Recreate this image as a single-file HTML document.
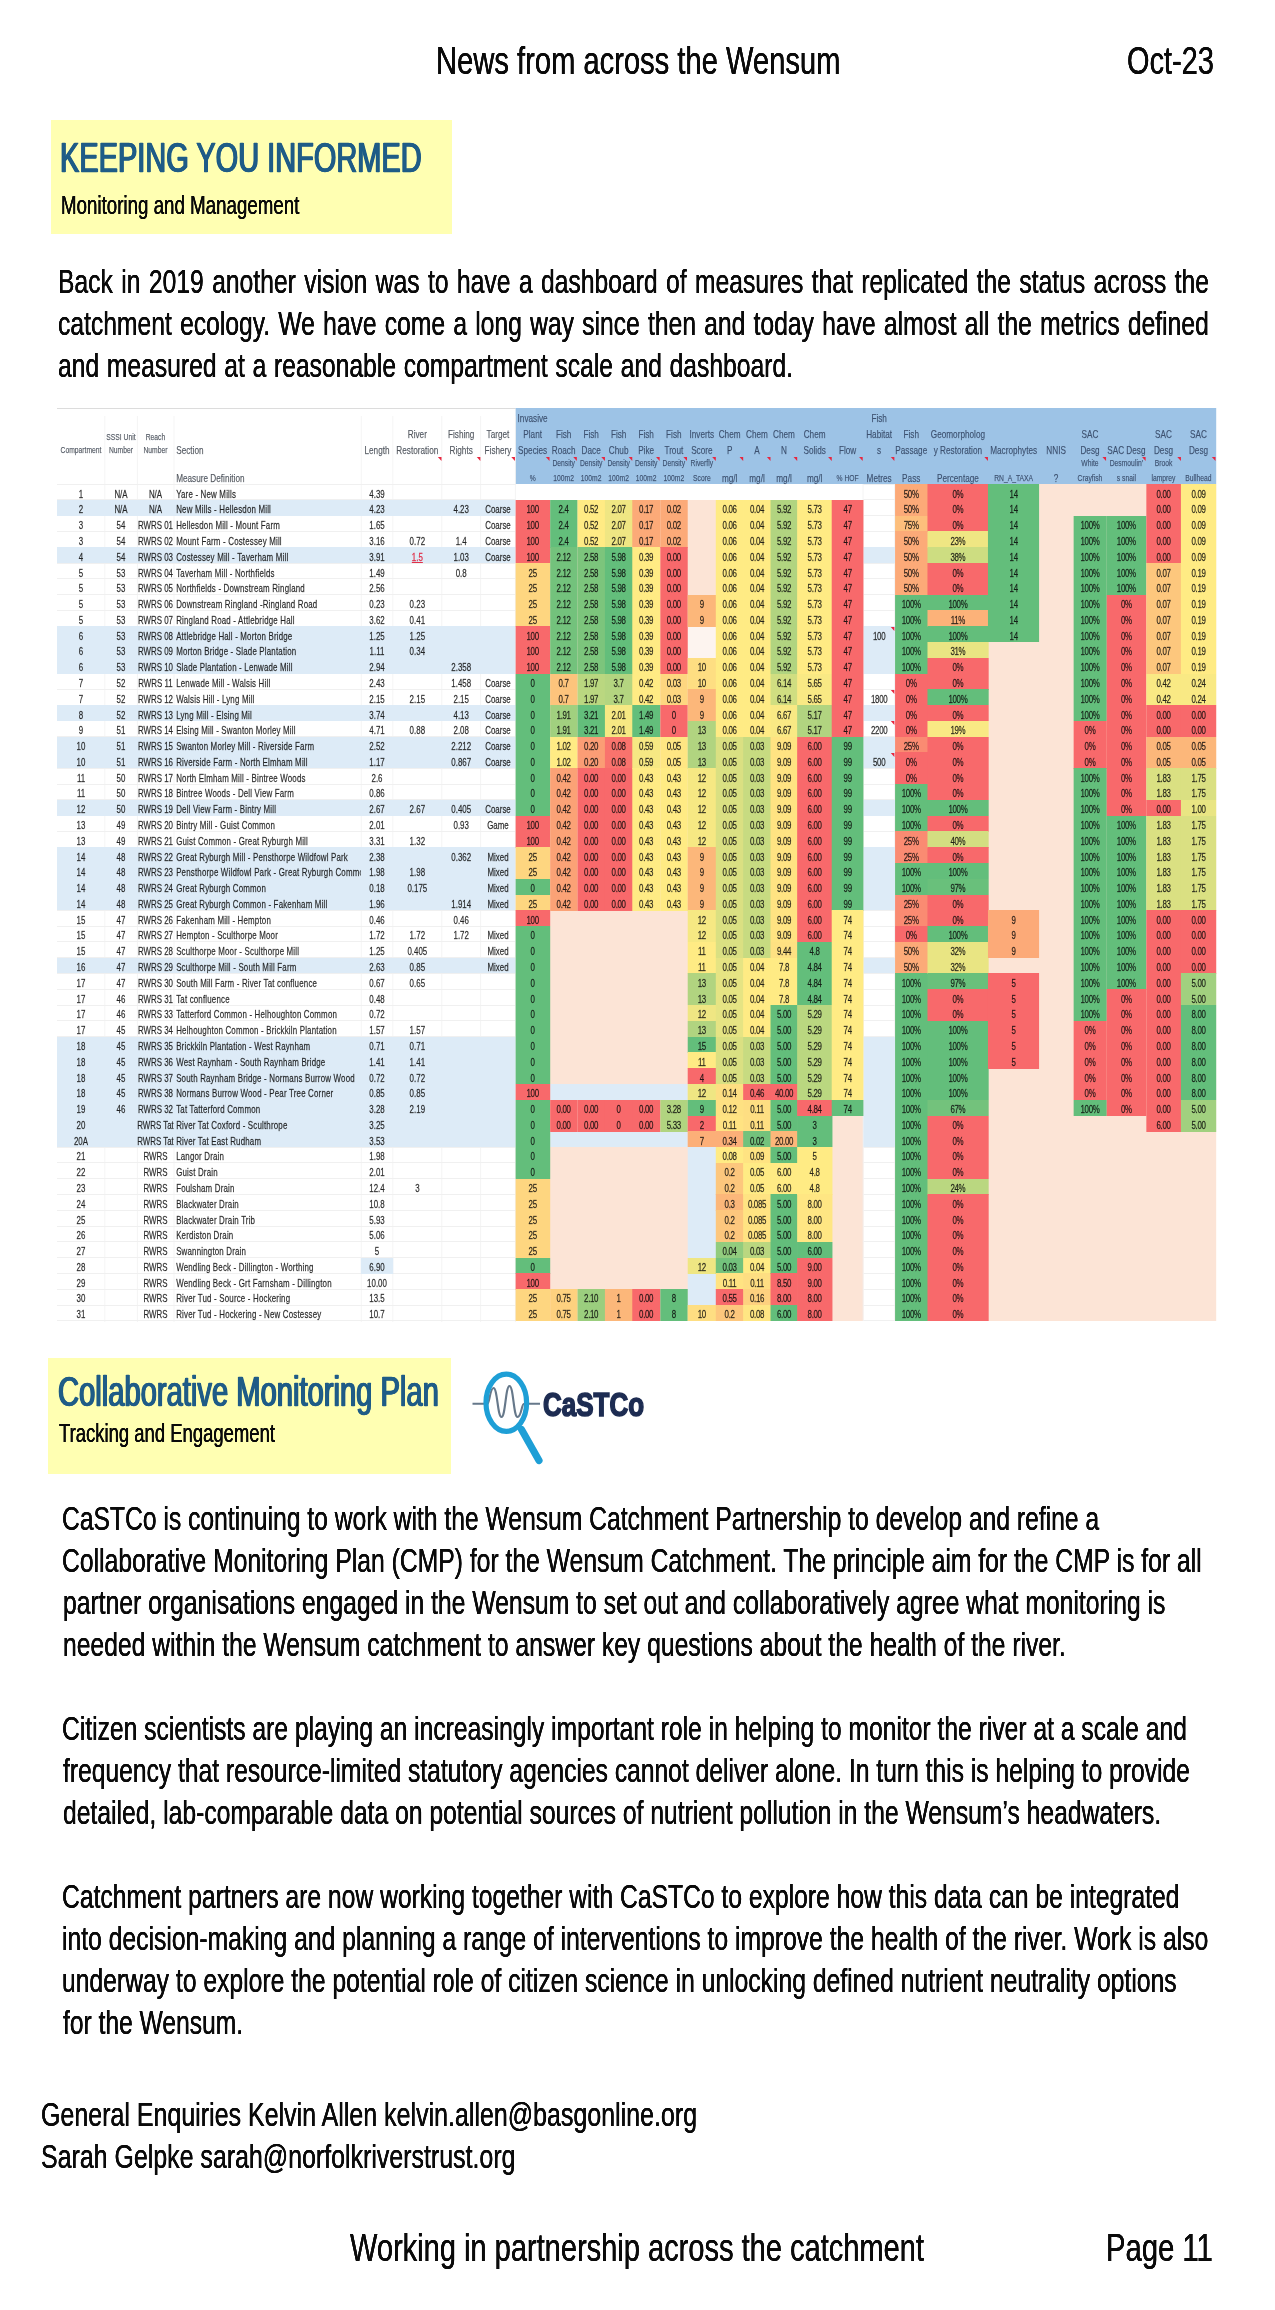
<!DOCTYPE html><html lang="en"><head><meta charset="utf-8"><title>News from across the Wensum - Oct-23 - Page 11</title><style>

html,body{margin:0;padding:0;background:#fff}
body{width:1275px;height:2310px;position:relative;overflow:hidden;font-family:"Liberation Sans",sans-serif;color:#000}
.t{position:absolute;white-space:nowrap;transform-origin:0 0;color:#0a0a0a;text-shadow:0.004em 0 0 #0a0a0a,-0.004em 0 0 #0a0a0a}
.yb{position:absolute;background:#ffffb2}
#tb{position:absolute;transform-origin:0 0;font-family:"Liberation Sans",sans-serif;filter:blur(0.6px)}
#tb i{position:absolute;display:block}
#tb .c{position:absolute;font-size:11.0px;color:rgba(10,10,10,.85);-webkit-text-stroke:0.3px rgba(10,10,10,.6);white-space:nowrap;overflow:hidden;box-sizing:border-box}
#tb .c p{margin:0;height:15.79px;line-height:15.79px}
#tb .sec{overflow:hidden;letter-spacing:.25px}
#tb .n{letter-spacing:-.45px}
#tb .h{position:absolute;font-size:11.4px;line-height:14px;height:14px;color:#3d5170;-webkit-text-stroke:0.25px rgba(61,81,112,.6);white-space:nowrap}
#tb .h.s{font-size:9.4px}
#tb .tr{width:0;height:0;border-left:5px solid transparent;border-top:4px solid #e8263f}

</style></head><body>
<div class="yb" style="left:50.7px;top:119.9px;width:401.4px;height:114.5px"></div>
<div class="yb" style="left:47.9px;top:1358.0px;width:403.2px;height:115.5px"></div>
<div class="t" style="left:435.69px;top:41.0px;font-size:39.6px;line-height:39.6px;transform:scaleX(0.7366);">News from across the Wensum</div>
<div class="t" style="left:1126.87px;top:41.0px;font-size:39.6px;line-height:39.6px;transform:scaleX(0.7314);">Oct-23</div>
<div class="t" style="left:60.14px;top:137.3px;font-size:42.3px;line-height:42.3px;transform:scaleX(0.6850);color:#1f5c87;-webkit-text-stroke:0.6px #1f5c87;text-shadow:1px 0 0 #1f5c87,-1px 0 0 #1f5c87">KEEPING YOU INFORMED</div>
<div class="t" style="left:60.70px;top:192.6px;font-size:25.0px;line-height:25.0px;transform:scaleX(0.7490);">Monitoring and Management</div>
<div class="t" style="left:57.62px;top:265.2px;font-size:33.3px;line-height:33.3px;transform:scaleX(0.7410);word-spacing:2.088px;">Back in 2019 another vision was to have a dashboard of measures that replicated the status across the</div>
<div class="t" style="left:57.86px;top:307.0px;font-size:33.3px;line-height:33.3px;transform:scaleX(0.7410);word-spacing:1.822px;">catchment ecology. We have come a long way since then and today have almost all the metrics defined</div>
<div class="t" style="left:57.86px;top:348.8px;font-size:33.3px;line-height:33.3px;transform:scaleX(0.7410);word-spacing:1.130px;">and measured at a reasonable compartment scale and dashboard.</div>
<div class="t" style="left:58.42px;top:1370.5px;font-size:42.3px;line-height:42.3px;transform:scaleX(0.6893);color:#1f5c87;-webkit-text-stroke:0.6px #1f5c87;text-shadow:1px 0 0 #1f5c87,-1px 0 0 #1f5c87">Collaborative Monitoring Plan</div>
<div class="t" style="left:59.00px;top:1421.3px;font-size:25.0px;line-height:25.0px;transform:scaleX(0.7388);">Tracking and Engagement</div>
<div class="t" style="left:62.16px;top:1502.4px;font-size:33.3px;line-height:33.3px;transform:scaleX(0.7406);">CaSTCo is continuing to work with the Wensum Catchment Partnership to develop and refine a</div>
<div class="t" style="left:62.16px;top:1544.4px;font-size:33.3px;line-height:33.3px;transform:scaleX(0.7420);">Collaborative Monitoring Plan (CMP) for the Wensum Catchment. The principle aim for the CMP is for all</div>
<div class="t" style="left:62.52px;top:1586.4px;font-size:33.3px;line-height:33.3px;transform:scaleX(0.7420);">partner organisations engaged in the Wensum to set out and collaboratively agree what monitoring is</div>
<div class="t" style="left:62.52px;top:1628.4px;font-size:33.3px;line-height:33.3px;transform:scaleX(0.7415);">needed within the Wensum catchment to answer key questions about the health of the river.</div>
<div class="t" style="left:62.16px;top:1712.4px;font-size:33.3px;line-height:33.3px;transform:scaleX(0.7403);">Citizen scientists are playing an increasingly important role in helping to monitor the river at a scale and</div>
<div class="t" style="left:63.30px;top:1754.4px;font-size:33.3px;line-height:33.3px;transform:scaleX(0.7398);">frequency that resource-limited statutory agencies cannot deliver alone. In turn this is helping to provide</div>
<div class="t" style="left:62.76px;top:1796.4px;font-size:33.3px;line-height:33.3px;transform:scaleX(0.7413);">detailed, lab-comparable data on potential sources of nutrient pollution in the Wensum’s headwaters.</div>
<div class="t" style="left:62.26px;top:1880.4px;font-size:33.3px;line-height:33.3px;transform:scaleX(0.7408);">Catchment partners are now working together with CaSTCo to explore how this data can be integrated</div>
<div class="t" style="left:62.32px;top:1922.4px;font-size:33.3px;line-height:33.3px;transform:scaleX(0.7420);">into decision-making and planning a range of interventions to improve the health of the river. Work is also</div>
<div class="t" style="left:62.32px;top:1964.4px;font-size:33.3px;line-height:33.3px;transform:scaleX(0.7416);">underway to explore the potential role of citizen science in unlocking defined nutrient neutrality options</div>
<div class="t" style="left:63.00px;top:2006.4px;font-size:33.3px;line-height:33.3px;transform:scaleX(0.7390);">for the Wensum.</div>
<div class="t" style="left:41.15px;top:2098.4px;font-size:33.3px;line-height:33.3px;transform:scaleX(0.7505);">General Enquiries Kelvin Allen kelvin.allen@basgonline.org</div>
<div class="t" style="left:41.25px;top:2140.1px;font-size:33.3px;line-height:33.3px;transform:scaleX(0.7491);">Sarah Gelpke sarah@norfolkriverstrust.org</div>
<div class="t" style="left:350.20px;top:2228.1px;font-size:39.6px;line-height:39.6px;transform:scaleX(0.7336);">Working in partnership across the catchment</div>
<div class="t" style="left:1105.98px;top:2228.1px;font-size:39.6px;line-height:39.6px;transform:scaleX(0.7388);">Page 11</div>
<div id="tb" style="left:57.0px;top:408.0px;width:1609.72px;height:914.6px;transform:scaleX(0.720)">
<i style="left:0;top:0;width:636.5px;height:1px;background:#dcdcdc"></i>
<i style="left:636.53px;top:0.3px;width:973.19px;height:75.8px;background:#9dc3e6"></i>
<i style="left:636.53px;top:91.89px;width:483.33px;height:820.82px;background:#fce4d6"></i>
<i style="left:1163.89px;top:76.10px;width:445.83px;height:836.61px;background:#fce4d6"></i>
<i style="left:66.07px;top:8.3px;width:1.2px;height:905.3px;background:#f0f0f0"></i>
<i style="left:110.51px;top:8.3px;width:1.2px;height:905.3px;background:#f0f0f0"></i>
<i style="left:161.90px;top:8.3px;width:1.2px;height:905.3px;background:#f0f0f0"></i>
<i style="left:421.62px;top:8.3px;width:1.2px;height:905.3px;background:#f0f0f0"></i>
<i style="left:466.07px;top:8.3px;width:1.2px;height:905.3px;background:#f0f0f0"></i>
<i style="left:533.71px;top:8.3px;width:1.2px;height:905.3px;background:#f0f0f0"></i>
<i style="left:587.87px;top:8.3px;width:1.2px;height:905.3px;background:#f0f0f0"></i>
<i style="left:635.93px;top:8.3px;width:1.2px;height:905.3px;background:#f0f0f0"></i>
<i style="left:1119.26px;top:76.1px;width:1.2px;height:836.6px;background:#f0f0f0"></i>
<i style="left:1163.29px;top:76.1px;width:1.2px;height:836.6px;background:#f0f0f0"></i>
<i style="left:0;top:75.70px;width:636.5px;height:0.9px;background:#f0f0f0"></i>
<i style="left:1119.86px;top:75.70px;width:44.0px;height:0.9px;background:#f0f0f0"></i>
<i style="left:0;top:91.49px;width:636.5px;height:0.9px;background:#f0f0f0"></i>
<i style="left:1119.86px;top:91.49px;width:44.0px;height:0.9px;background:#f0f0f0"></i>
<i style="left:0;top:107.27px;width:636.5px;height:0.9px;background:#f0f0f0"></i>
<i style="left:1119.86px;top:107.27px;width:44.0px;height:0.9px;background:#f0f0f0"></i>
<i style="left:0;top:123.06px;width:636.5px;height:0.9px;background:#f0f0f0"></i>
<i style="left:1119.86px;top:123.06px;width:44.0px;height:0.9px;background:#f0f0f0"></i>
<i style="left:0;top:138.84px;width:636.5px;height:0.9px;background:#f0f0f0"></i>
<i style="left:1119.86px;top:138.84px;width:44.0px;height:0.9px;background:#f0f0f0"></i>
<i style="left:0;top:154.62px;width:636.5px;height:0.9px;background:#f0f0f0"></i>
<i style="left:1119.86px;top:154.62px;width:44.0px;height:0.9px;background:#f0f0f0"></i>
<i style="left:0;top:170.41px;width:636.5px;height:0.9px;background:#f0f0f0"></i>
<i style="left:1119.86px;top:170.41px;width:44.0px;height:0.9px;background:#f0f0f0"></i>
<i style="left:0;top:186.20px;width:636.5px;height:0.9px;background:#f0f0f0"></i>
<i style="left:1119.86px;top:186.20px;width:44.0px;height:0.9px;background:#f0f0f0"></i>
<i style="left:0;top:201.98px;width:636.5px;height:0.9px;background:#f0f0f0"></i>
<i style="left:1119.86px;top:201.98px;width:44.0px;height:0.9px;background:#f0f0f0"></i>
<i style="left:0;top:217.76px;width:636.5px;height:0.9px;background:#f0f0f0"></i>
<i style="left:1119.86px;top:217.76px;width:44.0px;height:0.9px;background:#f0f0f0"></i>
<i style="left:0;top:233.55px;width:636.5px;height:0.9px;background:#f0f0f0"></i>
<i style="left:1119.86px;top:233.55px;width:44.0px;height:0.9px;background:#f0f0f0"></i>
<i style="left:0;top:249.34px;width:636.5px;height:0.9px;background:#f0f0f0"></i>
<i style="left:1119.86px;top:249.34px;width:44.0px;height:0.9px;background:#f0f0f0"></i>
<i style="left:0;top:265.12px;width:636.5px;height:0.9px;background:#f0f0f0"></i>
<i style="left:1119.86px;top:265.12px;width:44.0px;height:0.9px;background:#f0f0f0"></i>
<i style="left:0;top:280.91px;width:636.5px;height:0.9px;background:#f0f0f0"></i>
<i style="left:1119.86px;top:280.91px;width:44.0px;height:0.9px;background:#f0f0f0"></i>
<i style="left:0;top:296.69px;width:636.5px;height:0.9px;background:#f0f0f0"></i>
<i style="left:1119.86px;top:296.69px;width:44.0px;height:0.9px;background:#f0f0f0"></i>
<i style="left:0;top:312.48px;width:636.5px;height:0.9px;background:#f0f0f0"></i>
<i style="left:1119.86px;top:312.48px;width:44.0px;height:0.9px;background:#f0f0f0"></i>
<i style="left:0;top:328.26px;width:636.5px;height:0.9px;background:#f0f0f0"></i>
<i style="left:1119.86px;top:328.26px;width:44.0px;height:0.9px;background:#f0f0f0"></i>
<i style="left:0;top:344.05px;width:636.5px;height:0.9px;background:#f0f0f0"></i>
<i style="left:1119.86px;top:344.05px;width:44.0px;height:0.9px;background:#f0f0f0"></i>
<i style="left:0;top:359.83px;width:636.5px;height:0.9px;background:#f0f0f0"></i>
<i style="left:1119.86px;top:359.83px;width:44.0px;height:0.9px;background:#f0f0f0"></i>
<i style="left:0;top:375.62px;width:636.5px;height:0.9px;background:#f0f0f0"></i>
<i style="left:1119.86px;top:375.62px;width:44.0px;height:0.9px;background:#f0f0f0"></i>
<i style="left:0;top:391.40px;width:636.5px;height:0.9px;background:#f0f0f0"></i>
<i style="left:1119.86px;top:391.40px;width:44.0px;height:0.9px;background:#f0f0f0"></i>
<i style="left:0;top:407.19px;width:636.5px;height:0.9px;background:#f0f0f0"></i>
<i style="left:1119.86px;top:407.19px;width:44.0px;height:0.9px;background:#f0f0f0"></i>
<i style="left:0;top:422.97px;width:636.5px;height:0.9px;background:#f0f0f0"></i>
<i style="left:1119.86px;top:422.97px;width:44.0px;height:0.9px;background:#f0f0f0"></i>
<i style="left:0;top:438.75px;width:636.5px;height:0.9px;background:#f0f0f0"></i>
<i style="left:1119.86px;top:438.75px;width:44.0px;height:0.9px;background:#f0f0f0"></i>
<i style="left:0;top:454.54px;width:636.5px;height:0.9px;background:#f0f0f0"></i>
<i style="left:1119.86px;top:454.54px;width:44.0px;height:0.9px;background:#f0f0f0"></i>
<i style="left:0;top:470.33px;width:636.5px;height:0.9px;background:#f0f0f0"></i>
<i style="left:1119.86px;top:470.33px;width:44.0px;height:0.9px;background:#f0f0f0"></i>
<i style="left:0;top:486.11px;width:636.5px;height:0.9px;background:#f0f0f0"></i>
<i style="left:1119.86px;top:486.11px;width:44.0px;height:0.9px;background:#f0f0f0"></i>
<i style="left:0;top:501.90px;width:636.5px;height:0.9px;background:#f0f0f0"></i>
<i style="left:1119.86px;top:501.90px;width:44.0px;height:0.9px;background:#f0f0f0"></i>
<i style="left:0;top:517.68px;width:636.5px;height:0.9px;background:#f0f0f0"></i>
<i style="left:1119.86px;top:517.68px;width:44.0px;height:0.9px;background:#f0f0f0"></i>
<i style="left:0;top:533.47px;width:636.5px;height:0.9px;background:#f0f0f0"></i>
<i style="left:1119.86px;top:533.47px;width:44.0px;height:0.9px;background:#f0f0f0"></i>
<i style="left:0;top:549.25px;width:636.5px;height:0.9px;background:#f0f0f0"></i>
<i style="left:1119.86px;top:549.25px;width:44.0px;height:0.9px;background:#f0f0f0"></i>
<i style="left:0;top:565.03px;width:636.5px;height:0.9px;background:#f0f0f0"></i>
<i style="left:1119.86px;top:565.03px;width:44.0px;height:0.9px;background:#f0f0f0"></i>
<i style="left:0;top:580.82px;width:636.5px;height:0.9px;background:#f0f0f0"></i>
<i style="left:1119.86px;top:580.82px;width:44.0px;height:0.9px;background:#f0f0f0"></i>
<i style="left:0;top:596.61px;width:636.5px;height:0.9px;background:#f0f0f0"></i>
<i style="left:1119.86px;top:596.61px;width:44.0px;height:0.9px;background:#f0f0f0"></i>
<i style="left:0;top:612.39px;width:636.5px;height:0.9px;background:#f0f0f0"></i>
<i style="left:1119.86px;top:612.39px;width:44.0px;height:0.9px;background:#f0f0f0"></i>
<i style="left:0;top:628.18px;width:636.5px;height:0.9px;background:#f0f0f0"></i>
<i style="left:1119.86px;top:628.18px;width:44.0px;height:0.9px;background:#f0f0f0"></i>
<i style="left:0;top:643.96px;width:636.5px;height:0.9px;background:#f0f0f0"></i>
<i style="left:1119.86px;top:643.96px;width:44.0px;height:0.9px;background:#f0f0f0"></i>
<i style="left:0;top:659.75px;width:636.5px;height:0.9px;background:#f0f0f0"></i>
<i style="left:1119.86px;top:659.75px;width:44.0px;height:0.9px;background:#f0f0f0"></i>
<i style="left:0;top:675.53px;width:636.5px;height:0.9px;background:#f0f0f0"></i>
<i style="left:1119.86px;top:675.53px;width:44.0px;height:0.9px;background:#f0f0f0"></i>
<i style="left:0;top:691.32px;width:636.5px;height:0.9px;background:#f0f0f0"></i>
<i style="left:1119.86px;top:691.32px;width:44.0px;height:0.9px;background:#f0f0f0"></i>
<i style="left:0;top:707.10px;width:636.5px;height:0.9px;background:#f0f0f0"></i>
<i style="left:1119.86px;top:707.10px;width:44.0px;height:0.9px;background:#f0f0f0"></i>
<i style="left:0;top:722.89px;width:636.5px;height:0.9px;background:#f0f0f0"></i>
<i style="left:1119.86px;top:722.89px;width:44.0px;height:0.9px;background:#f0f0f0"></i>
<i style="left:0;top:738.67px;width:636.5px;height:0.9px;background:#f0f0f0"></i>
<i style="left:1119.86px;top:738.67px;width:44.0px;height:0.9px;background:#f0f0f0"></i>
<i style="left:0;top:754.46px;width:636.5px;height:0.9px;background:#f0f0f0"></i>
<i style="left:1119.86px;top:754.46px;width:44.0px;height:0.9px;background:#f0f0f0"></i>
<i style="left:0;top:770.24px;width:636.5px;height:0.9px;background:#f0f0f0"></i>
<i style="left:1119.86px;top:770.24px;width:44.0px;height:0.9px;background:#f0f0f0"></i>
<i style="left:0;top:786.03px;width:636.5px;height:0.9px;background:#f0f0f0"></i>
<i style="left:1119.86px;top:786.03px;width:44.0px;height:0.9px;background:#f0f0f0"></i>
<i style="left:0;top:801.81px;width:636.5px;height:0.9px;background:#f0f0f0"></i>
<i style="left:1119.86px;top:801.81px;width:44.0px;height:0.9px;background:#f0f0f0"></i>
<i style="left:0;top:817.59px;width:636.5px;height:0.9px;background:#f0f0f0"></i>
<i style="left:1119.86px;top:817.59px;width:44.0px;height:0.9px;background:#f0f0f0"></i>
<i style="left:0;top:833.38px;width:636.5px;height:0.9px;background:#f0f0f0"></i>
<i style="left:1119.86px;top:833.38px;width:44.0px;height:0.9px;background:#f0f0f0"></i>
<i style="left:0;top:849.17px;width:636.5px;height:0.9px;background:#f0f0f0"></i>
<i style="left:1119.86px;top:849.17px;width:44.0px;height:0.9px;background:#f0f0f0"></i>
<i style="left:0;top:864.95px;width:636.5px;height:0.9px;background:#f0f0f0"></i>
<i style="left:1119.86px;top:864.95px;width:44.0px;height:0.9px;background:#f0f0f0"></i>
<i style="left:0;top:880.74px;width:636.5px;height:0.9px;background:#f0f0f0"></i>
<i style="left:1119.86px;top:880.74px;width:44.0px;height:0.9px;background:#f0f0f0"></i>
<i style="left:0;top:896.52px;width:636.5px;height:0.9px;background:#f0f0f0"></i>
<i style="left:1119.86px;top:896.52px;width:44.0px;height:0.9px;background:#f0f0f0"></i>
<i style="left:0;top:912.30px;width:636.5px;height:0.9px;background:#f0f0f0"></i>
<i style="left:1119.86px;top:912.30px;width:44.0px;height:0.9px;background:#f0f0f0"></i>
<i style="left:0;top:91.89px;width:636.53px;height:15.79px;background:#ddebf7"></i>
<i style="left:0;top:139.24px;width:636.53px;height:15.79px;background:#ddebf7"></i>
<i style="left:1119.86px;top:139.24px;width:44.03px;height:15.79px;background:#ddebf7"></i>
<i style="left:0;top:218.16px;width:636.53px;height:47.36px;background:#ddebf7"></i>
<i style="left:1119.86px;top:218.16px;width:44.03px;height:47.36px;background:#ddebf7"></i>
<i style="left:0;top:297.09px;width:636.53px;height:15.79px;background:#ddebf7"></i>
<i style="left:1119.86px;top:297.09px;width:44.03px;height:15.79px;background:#ddebf7"></i>
<i style="left:0;top:328.66px;width:636.53px;height:31.57px;background:#ddebf7"></i>
<i style="left:1119.86px;top:328.66px;width:44.03px;height:31.57px;background:#ddebf7"></i>
<i style="left:0;top:391.80px;width:636.53px;height:15.79px;background:#ddebf7"></i>
<i style="left:1119.86px;top:391.80px;width:44.03px;height:15.79px;background:#ddebf7"></i>
<i style="left:0;top:439.15px;width:636.53px;height:63.14px;background:#ddebf7"></i>
<i style="left:1119.86px;top:439.15px;width:44.03px;height:63.14px;background:#ddebf7"></i>
<i style="left:0;top:549.65px;width:636.53px;height:15.79px;background:#ddebf7"></i>
<i style="left:1119.86px;top:549.65px;width:44.03px;height:15.79px;background:#ddebf7"></i>
<i style="left:0;top:628.58px;width:636.53px;height:110.50px;background:#ddebf7"></i>
<i style="left:1119.86px;top:628.58px;width:44.03px;height:110.50px;background:#ddebf7"></i>
<i style="left:684.72px;top:675.93px;width:191.75px;height:16.18px;background:#ddebf7"></i>
<i style="left:684.72px;top:723.29px;width:191.75px;height:16.18px;background:#ddebf7"></i>
<i style="left:875.97px;top:739.07px;width:39.81px;height:110.90px;background:#ddebf7"></i>
<i style="left:875.97px;top:865.35px;width:39.81px;height:31.97px;background:#ddebf7"></i>
<i style="left:875.97px;top:218.16px;width:39.81px;height:31.97px;background:#fdf4ef"></i>
<i style="left:422.22px;top:849.57px;width:44.94px;height:16.18px;background:#ddebf7"></i>
<i style="left:636.53px;top:91.89px;width:48.69px;height:63.54px;background:#f8696b"></i>
<i style="left:636.53px;top:155.02px;width:48.69px;height:63.54px;background:#fed680"></i>
<i style="left:636.53px;top:218.16px;width:48.69px;height:47.76px;background:#f8696b"></i>
<i style="left:636.53px;top:265.52px;width:48.69px;height:142.47px;background:#63be7b"></i>
<i style="left:636.53px;top:407.59px;width:48.69px;height:31.97px;background:#f8696b"></i>
<i style="left:636.53px;top:439.15px;width:48.69px;height:31.97px;background:#fed680"></i>
<i style="left:636.53px;top:470.73px;width:48.69px;height:16.18px;background:#63be7b"></i>
<i style="left:636.53px;top:486.51px;width:48.69px;height:16.18px;background:#fed680"></i>
<i style="left:636.53px;top:502.30px;width:48.69px;height:16.18px;background:#f8696b"></i>
<i style="left:636.53px;top:518.08px;width:48.69px;height:158.25px;background:#63be7b"></i>
<i style="left:636.53px;top:675.93px;width:48.69px;height:16.18px;background:#f8696b"></i>
<i style="left:636.53px;top:691.72px;width:48.69px;height:79.33px;background:#63be7b"></i>
<i style="left:636.53px;top:770.64px;width:48.69px;height:79.33px;background:#fed680"></i>
<i style="left:636.53px;top:849.57px;width:48.69px;height:16.18px;background:#63be7b"></i>
<i style="left:636.53px;top:865.35px;width:48.69px;height:16.18px;background:#f8696b"></i>
<i style="left:636.53px;top:881.13px;width:48.69px;height:31.97px;background:#fed680"></i>
<i style="left:684.72px;top:91.89px;width:38.42px;height:47.76px;background:#63be7b"></i>
<i style="left:684.72px;top:139.24px;width:38.42px;height:126.68px;background:#73c27c"></i>
<i style="left:684.72px;top:265.52px;width:38.42px;height:31.97px;background:#fdc47c"></i>
<i style="left:684.72px;top:297.09px;width:38.42px;height:31.97px;background:#a1d07f"></i>
<i style="left:684.72px;top:328.66px;width:38.42px;height:31.97px;background:#ffeb84"></i>
<i style="left:684.72px;top:360.23px;width:38.42px;height:142.47px;background:#fba276"></i>
<i style="left:684.72px;top:691.72px;width:38.42px;height:31.97px;background:#f8696b"></i>
<i style="left:684.72px;top:881.13px;width:38.42px;height:31.97px;background:#fed17f"></i>
<i style="left:722.64px;top:91.89px;width:38.97px;height:47.76px;background:#ffeb84"></i>
<i style="left:722.64px;top:139.24px;width:38.97px;height:126.68px;background:#7cc57c"></i>
<i style="left:722.64px;top:265.52px;width:38.97px;height:31.97px;background:#bad780"></i>
<i style="left:722.64px;top:297.09px;width:38.97px;height:31.97px;background:#63be7b"></i>
<i style="left:722.64px;top:328.66px;width:38.97px;height:31.97px;background:#fb9d75"></i>
<i style="left:722.64px;top:360.23px;width:38.97px;height:142.47px;background:#f8696b"></i>
<i style="left:722.64px;top:691.72px;width:38.97px;height:31.97px;background:#f8696b"></i>
<i style="left:722.64px;top:881.13px;width:38.97px;height:31.97px;background:#9bce7e"></i>
<i style="left:761.11px;top:91.89px;width:38.42px;height:47.76px;background:#efe683"></i>
<i style="left:761.11px;top:139.24px;width:38.42px;height:126.68px;background:#63be7b"></i>
<i style="left:761.11px;top:265.52px;width:38.42px;height:31.97px;background:#b4d580"></i>
<i style="left:761.11px;top:297.09px;width:38.42px;height:31.97px;background:#f6e883"></i>
<i style="left:761.11px;top:328.66px;width:38.42px;height:31.97px;background:#f9736d"></i>
<i style="left:761.11px;top:360.23px;width:38.42px;height:142.47px;background:#f8696b"></i>
<i style="left:761.11px;top:691.72px;width:38.42px;height:31.97px;background:#f8696b"></i>
<i style="left:761.11px;top:881.13px;width:38.42px;height:31.97px;background:#fcb77a"></i>
<i style="left:799.03px;top:91.89px;width:38.97px;height:47.76px;background:#fcaa78"></i>
<i style="left:799.03px;top:139.24px;width:38.97px;height:158.25px;background:#ffeb84"></i>
<i style="left:799.03px;top:297.09px;width:38.97px;height:31.97px;background:#63be7b"></i>
<i style="left:799.03px;top:328.66px;width:38.97px;height:31.97px;background:#f6e883"></i>
<i style="left:799.03px;top:360.23px;width:38.97px;height:142.47px;background:#ffeb84"></i>
<i style="left:799.03px;top:691.72px;width:38.97px;height:31.97px;background:#f8696b"></i>
<i style="left:799.03px;top:881.13px;width:38.97px;height:31.97px;background:#f8696b"></i>
<i style="left:837.50px;top:91.89px;width:38.97px;height:47.76px;background:#fcaa78"></i>
<i style="left:837.50px;top:139.24px;width:38.97px;height:126.68px;background:#f8696b"></i>
<i style="left:837.50px;top:265.52px;width:38.97px;height:31.97px;background:#fed680"></i>
<i style="left:837.50px;top:297.09px;width:38.97px;height:31.97px;background:#f8696b"></i>
<i style="left:837.50px;top:328.66px;width:38.97px;height:31.97px;background:#ffe683"></i>
<i style="left:837.50px;top:360.23px;width:38.97px;height:142.47px;background:#ffeb84"></i>
<i style="left:837.50px;top:691.72px;width:38.97px;height:31.97px;background:#b1d480"></i>
<i style="left:837.50px;top:881.13px;width:38.97px;height:31.97px;background:#63be7b"></i>
<i style="left:875.97px;top:186.60px;width:39.81px;height:31.97px;background:#fcb77a"></i>
<i style="left:875.97px;top:249.74px;width:39.81px;height:31.97px;background:#fede82"></i>
<i style="left:875.97px;top:281.31px;width:39.81px;height:31.97px;background:#fcb77a"></i>
<i style="left:875.97px;top:312.88px;width:39.81px;height:47.76px;background:#b1d480"></i>
<i style="left:875.97px;top:360.23px;width:39.81px;height:79.33px;background:#f6e883"></i>
<i style="left:875.97px;top:439.15px;width:39.81px;height:63.54px;background:#fcb77a"></i>
<i style="left:875.97px;top:502.30px;width:39.81px;height:31.97px;background:#f6e883"></i>
<i style="left:875.97px;top:533.87px;width:39.81px;height:31.97px;background:#ffeb84"></i>
<i style="left:875.97px;top:565.43px;width:39.81px;height:31.97px;background:#b1d480"></i>
<i style="left:875.97px;top:597.00px;width:39.81px;height:16.18px;background:#efe683"></i>
<i style="left:875.97px;top:612.79px;width:39.81px;height:16.18px;background:#b1d480"></i>
<i style="left:875.97px;top:628.58px;width:39.81px;height:16.18px;background:#63be7b"></i>
<i style="left:875.97px;top:644.36px;width:39.81px;height:16.18px;background:#ffeb84"></i>
<i style="left:875.97px;top:660.14px;width:39.81px;height:16.18px;background:#f8696b"></i>
<i style="left:875.97px;top:675.93px;width:39.81px;height:16.18px;background:#efe683"></i>
<i style="left:875.97px;top:691.72px;width:39.81px;height:16.18px;background:#63be7b"></i>
<i style="left:875.97px;top:707.50px;width:39.81px;height:16.18px;background:#f8696b"></i>
<i style="left:875.97px;top:723.29px;width:39.81px;height:16.18px;background:#fcaf78"></i>
<i style="left:875.97px;top:849.57px;width:39.81px;height:16.18px;background:#efe683"></i>
<i style="left:875.97px;top:896.92px;width:39.81px;height:16.18px;background:#fede82"></i>
<i style="left:915.28px;top:91.89px;width:38.42px;height:237.18px;background:#ffeb84"></i>
<i style="left:915.28px;top:328.66px;width:38.42px;height:221.39px;background:#dae082"></i>
<i style="left:915.28px;top:549.65px;width:38.42px;height:79.33px;background:#e6e483"></i>
<i style="left:915.28px;top:628.58px;width:38.42px;height:47.76px;background:#dae082"></i>
<i style="left:915.28px;top:675.93px;width:38.42px;height:16.18px;background:#fede82"></i>
<i style="left:915.28px;top:691.72px;width:38.42px;height:16.18px;background:#fee182"></i>
<i style="left:915.28px;top:707.50px;width:38.42px;height:16.18px;background:#ffe382"></i>
<i style="left:915.28px;top:723.29px;width:38.42px;height:16.18px;background:#fcaf78"></i>
<i style="left:915.28px;top:739.07px;width:38.42px;height:16.18px;background:#ffeb84"></i>
<i style="left:915.28px;top:754.86px;width:38.42px;height:31.97px;background:#fdc77d"></i>
<i style="left:915.28px;top:786.43px;width:38.42px;height:16.18px;background:#fcb77a"></i>
<i style="left:915.28px;top:802.21px;width:38.42px;height:31.97px;background:#fdc77d"></i>
<i style="left:915.28px;top:833.78px;width:38.42px;height:16.18px;background:#92cc7e"></i>
<i style="left:915.28px;top:849.57px;width:38.42px;height:16.18px;background:#73c27c"></i>
<i style="left:915.28px;top:865.35px;width:38.42px;height:16.18px;background:#ffe382"></i>
<i style="left:915.28px;top:881.13px;width:38.42px;height:16.18px;background:#f8696b"></i>
<i style="left:915.28px;top:896.92px;width:38.42px;height:16.18px;background:#fdc77d"></i>
<i style="left:953.19px;top:91.89px;width:38.56px;height:237.18px;background:#ffeb84"></i>
<i style="left:953.19px;top:328.66px;width:38.56px;height:221.39px;background:#c7db81"></i>
<i style="left:953.19px;top:549.65px;width:38.56px;height:79.33px;background:#ffeb84"></i>
<i style="left:953.19px;top:628.58px;width:38.56px;height:47.76px;background:#c7db81"></i>
<i style="left:953.19px;top:675.93px;width:38.56px;height:16.18px;background:#f8696b"></i>
<i style="left:953.19px;top:691.72px;width:38.56px;height:31.97px;background:#fede82"></i>
<i style="left:953.19px;top:723.29px;width:38.56px;height:16.18px;background:#73c27c"></i>
<i style="left:953.19px;top:739.07px;width:38.56px;height:16.18px;background:#ffe382"></i>
<i style="left:953.19px;top:754.86px;width:38.56px;height:31.97px;background:#ffeb84"></i>
<i style="left:953.19px;top:786.43px;width:38.56px;height:47.76px;background:#ffe382"></i>
<i style="left:953.19px;top:833.78px;width:38.56px;height:16.18px;background:#bad780"></i>
<i style="left:953.19px;top:849.57px;width:38.56px;height:16.18px;background:#ffeb84"></i>
<i style="left:953.19px;top:865.35px;width:38.56px;height:16.18px;background:#fede82"></i>
<i style="left:953.19px;top:881.13px;width:38.56px;height:16.18px;background:#fed17f"></i>
<i style="left:953.19px;top:896.92px;width:38.56px;height:16.18px;background:#ffe683"></i>
<i style="left:991.25px;top:91.89px;width:37.44px;height:174.03px;background:#b1d480"></i>
<i style="left:991.25px;top:265.52px;width:37.44px;height:31.97px;background:#d0de81"></i>
<i style="left:991.25px;top:297.09px;width:37.44px;height:31.97px;background:#f9e984"></i>
<i style="left:991.25px;top:328.66px;width:37.44px;height:205.61px;background:#ffe382"></i>
<i style="left:991.25px;top:533.87px;width:37.44px;height:16.18px;background:#fee182"></i>
<i style="left:991.25px;top:549.65px;width:37.44px;height:47.76px;background:#ffeb84"></i>
<i style="left:991.25px;top:597.00px;width:37.44px;height:79.33px;background:#63be7b"></i>
<i style="left:991.25px;top:675.93px;width:37.44px;height:16.18px;background:#f8696b"></i>
<i style="left:991.25px;top:691.72px;width:37.44px;height:31.97px;background:#63be7b"></i>
<i style="left:991.25px;top:723.29px;width:37.44px;height:16.18px;background:#fcb77a"></i>
<i style="left:991.25px;top:739.07px;width:37.44px;height:16.18px;background:#63be7b"></i>
<i style="left:991.25px;top:754.86px;width:37.44px;height:31.97px;background:#ffeb84"></i>
<i style="left:991.25px;top:786.43px;width:37.44px;height:79.33px;background:#63be7b"></i>
<i style="left:991.25px;top:865.35px;width:37.44px;height:31.97px;background:#f8696b"></i>
<i style="left:991.25px;top:896.92px;width:37.44px;height:16.18px;background:#63be7b"></i>
<i style="left:1028.19px;top:91.89px;width:48.69px;height:174.03px;background:#ffeb84"></i>
<i style="left:1028.19px;top:265.52px;width:48.69px;height:31.97px;background:#f9e984"></i>
<i style="left:1028.19px;top:297.09px;width:48.69px;height:31.97px;background:#b1d480"></i>
<i style="left:1028.19px;top:328.66px;width:48.69px;height:205.61px;background:#f8696b"></i>
<i style="left:1028.19px;top:533.87px;width:48.69px;height:63.54px;background:#63be7b"></i>
<i style="left:1028.19px;top:597.00px;width:48.69px;height:95.11px;background:#bad780"></i>
<i style="left:1028.19px;top:691.72px;width:48.69px;height:16.18px;background:#f8696b"></i>
<i style="left:1028.19px;top:707.50px;width:48.69px;height:31.97px;background:#63be7b"></i>
<i style="left:1028.19px;top:739.07px;width:48.69px;height:47.76px;background:#ffeb84"></i>
<i style="left:1028.19px;top:786.43px;width:48.69px;height:47.76px;background:#ffe683"></i>
<i style="left:1028.19px;top:833.78px;width:48.69px;height:16.18px;background:#63be7b"></i>
<i style="left:1028.19px;top:849.57px;width:48.69px;height:63.54px;background:#f8696b"></i>
<i style="left:1076.39px;top:91.89px;width:43.97px;height:237.18px;background:#f8696b"></i>
<i style="left:1076.39px;top:328.66px;width:43.97px;height:174.03px;background:#63be7b"></i>
<i style="left:1076.39px;top:502.30px;width:43.97px;height:189.82px;background:#ffeb84"></i>
<i style="left:1076.39px;top:691.72px;width:43.97px;height:16.18px;background:#63be7b"></i>
<i style="left:1163.89px;top:76.10px;width:45.64px;height:31.97px;background:#fcaa78"></i>
<i style="left:1163.89px;top:107.67px;width:45.64px;height:16.18px;background:#fdbf7c"></i>
<i style="left:1163.89px;top:123.46px;width:45.64px;height:63.54px;background:#fcaa78"></i>
<i style="left:1163.89px;top:186.60px;width:45.64px;height:79.33px;background:#63be7b"></i>
<i style="left:1163.89px;top:265.52px;width:45.64px;height:63.54px;background:#f8696b"></i>
<i style="left:1163.89px;top:328.66px;width:45.64px;height:16.18px;background:#fa8b72"></i>
<i style="left:1163.89px;top:344.45px;width:45.64px;height:31.97px;background:#f8696b"></i>
<i style="left:1163.89px;top:376.02px;width:45.64px;height:47.76px;background:#63be7b"></i>
<i style="left:1163.89px;top:423.37px;width:45.64px;height:31.97px;background:#fa8b72"></i>
<i style="left:1163.89px;top:454.94px;width:45.64px;height:31.97px;background:#63be7b"></i>
<i style="left:1163.89px;top:486.51px;width:45.64px;height:31.97px;background:#fa8b72"></i>
<i style="left:1163.89px;top:518.08px;width:45.64px;height:16.18px;background:#f8696b"></i>
<i style="left:1163.89px;top:533.87px;width:45.64px;height:31.97px;background:#fcaa78"></i>
<i style="left:1163.89px;top:565.43px;width:45.64px;height:347.67px;background:#63be7b"></i>
<i style="left:1209.03px;top:76.10px;width:84.94px;height:47.76px;background:#f8696b"></i>
<i style="left:1209.03px;top:123.46px;width:84.94px;height:16.18px;background:#efe683"></i>
<i style="left:1209.03px;top:139.24px;width:84.94px;height:16.18px;background:#cddd81"></i>
<i style="left:1209.03px;top:155.02px;width:84.94px;height:31.97px;background:#f8696b"></i>
<i style="left:1209.03px;top:186.60px;width:84.94px;height:16.18px;background:#63be7b"></i>
<i style="left:1209.03px;top:202.38px;width:84.94px;height:16.18px;background:#fcb279"></i>
<i style="left:1209.03px;top:218.16px;width:84.94px;height:16.18px;background:#63be7b"></i>
<i style="left:1209.03px;top:233.95px;width:84.94px;height:16.18px;background:#e9e583"></i>
<i style="left:1209.03px;top:249.74px;width:84.94px;height:31.97px;background:#f8696b"></i>
<i style="left:1209.03px;top:281.31px;width:84.94px;height:16.18px;background:#63be7b"></i>
<i style="left:1209.03px;top:297.09px;width:84.94px;height:16.18px;background:#f8696b"></i>
<i style="left:1209.03px;top:312.88px;width:84.94px;height:16.18px;background:#f9e984"></i>
<i style="left:1209.03px;top:328.66px;width:84.94px;height:63.54px;background:#f8696b"></i>
<i style="left:1209.03px;top:391.80px;width:84.94px;height:16.18px;background:#63be7b"></i>
<i style="left:1209.03px;top:407.59px;width:84.94px;height:16.18px;background:#f8696b"></i>
<i style="left:1209.03px;top:423.37px;width:84.94px;height:16.18px;background:#d3de81"></i>
<i style="left:1209.03px;top:439.15px;width:84.94px;height:16.18px;background:#f8696b"></i>
<i style="left:1209.03px;top:454.94px;width:84.94px;height:16.18px;background:#63be7b"></i>
<i style="left:1209.03px;top:470.73px;width:84.94px;height:16.18px;background:#69c07b"></i>
<i style="left:1209.03px;top:486.51px;width:84.94px;height:31.97px;background:#f8696b"></i>
<i style="left:1209.03px;top:518.08px;width:84.94px;height:16.18px;background:#63be7b"></i>
<i style="left:1209.03px;top:533.87px;width:84.94px;height:31.97px;background:#e9e583"></i>
<i style="left:1209.03px;top:565.43px;width:84.94px;height:16.18px;background:#69c07b"></i>
<i style="left:1209.03px;top:581.22px;width:84.94px;height:31.97px;background:#f8696b"></i>
<i style="left:1209.03px;top:612.79px;width:84.94px;height:79.33px;background:#63be7b"></i>
<i style="left:1209.03px;top:691.72px;width:84.94px;height:16.18px;background:#73c27c"></i>
<i style="left:1209.03px;top:707.50px;width:84.94px;height:63.54px;background:#f8696b"></i>
<i style="left:1209.03px;top:770.64px;width:84.94px;height:16.18px;background:#bad780"></i>
<i style="left:1209.03px;top:786.43px;width:84.94px;height:126.68px;background:#f8696b"></i>
<i style="left:1293.47px;top:76.10px;width:70.92px;height:158.25px;background:#63be7b"></i>
<i style="left:1293.47px;top:502.30px;width:70.92px;height:47.76px;background:#fcaa78"></i>
<i style="left:1293.47px;top:565.43px;width:70.92px;height:95.11px;background:#f8696b"></i>
<i style="left:1411.53px;top:107.67px;width:46.89px;height:205.61px;background:#63be7b"></i>
<i style="left:1411.53px;top:312.88px;width:46.89px;height:47.76px;background:#f8696b"></i>
<i style="left:1411.53px;top:360.23px;width:46.89px;height:252.96px;background:#63be7b"></i>
<i style="left:1411.53px;top:612.79px;width:46.89px;height:79.33px;background:#f8696b"></i>
<i style="left:1411.53px;top:691.72px;width:46.89px;height:16.18px;background:#63be7b"></i>
<i style="left:1457.92px;top:107.67px;width:55.08px;height:79.33px;background:#63be7b"></i>
<i style="left:1457.92px;top:186.60px;width:55.08px;height:221.39px;background:#f8696b"></i>
<i style="left:1457.92px;top:407.59px;width:55.08px;height:174.03px;background:#63be7b"></i>
<i style="left:1457.92px;top:581.22px;width:55.08px;height:126.68px;background:#f8696b"></i>
<i style="left:1512.50px;top:76.10px;width:49.11px;height:79.33px;background:#f8696b"></i>
<i style="left:1512.50px;top:155.02px;width:49.11px;height:110.90px;background:#fdc77d"></i>
<i style="left:1512.50px;top:265.52px;width:49.11px;height:31.97px;background:#f9e984"></i>
<i style="left:1512.50px;top:297.09px;width:49.11px;height:31.97px;background:#f8696b"></i>
<i style="left:1512.50px;top:328.66px;width:49.11px;height:31.97px;background:#fcb77a"></i>
<i style="left:1512.50px;top:360.23px;width:49.11px;height:31.97px;background:#dae082"></i>
<i style="left:1512.50px;top:391.80px;width:49.11px;height:16.18px;background:#f8696b"></i>
<i style="left:1512.50px;top:407.59px;width:49.11px;height:95.11px;background:#dae082"></i>
<i style="left:1512.50px;top:502.30px;width:49.11px;height:221.39px;background:#f8696b"></i>
<i style="left:1561.11px;top:76.10px;width:49.11px;height:189.82px;background:#ffeb84"></i>
<i style="left:1561.11px;top:265.52px;width:49.11px;height:31.97px;background:#f9e984"></i>
<i style="left:1561.11px;top:297.09px;width:49.11px;height:31.97px;background:#f8696b"></i>
<i style="left:1561.11px;top:328.66px;width:49.11px;height:31.97px;background:#fcb77a"></i>
<i style="left:1561.11px;top:360.23px;width:49.11px;height:31.97px;background:#dae082"></i>
<i style="left:1561.11px;top:391.80px;width:49.11px;height:16.18px;background:#e9e583"></i>
<i style="left:1561.11px;top:407.59px;width:49.11px;height:95.11px;background:#dae082"></i>
<i style="left:1561.11px;top:502.30px;width:49.11px;height:63.54px;background:#f8696b"></i>
<i style="left:1561.11px;top:565.43px;width:49.11px;height:31.97px;background:#a1d07f"></i>
<i style="left:1561.11px;top:597.00px;width:49.11px;height:95.11px;background:#63be7b"></i>
<i style="left:1561.11px;top:691.72px;width:49.11px;height:31.97px;background:#a1d07f"></i>
<div class="c " style="left:0.00px;top:78.60px;width:66.67px;text-align:center;"><p>1</p><p>2</p><p>3</p><p>3</p><p>4</p><p>5</p><p>5</p><p>5</p><p>5</p><p>6</p><p>6</p><p>6</p><p>7</p><p>7</p><p>8</p><p>9</p><p>10</p><p>10</p><p>11</p><p>11</p><p>12</p><p>13</p><p>13</p><p>14</p><p>14</p><p>14</p><p>14</p><p>15</p><p>15</p><p>15</p><p>16</p><p>17</p><p>17</p><p>17</p><p>17</p><p>18</p><p>18</p><p>18</p><p>18</p><p>19</p><p>20</p><p>20A</p><p>21</p><p>22</p><p>23</p><p>24</p><p>25</p><p>26</p><p>27</p><p>28</p><p>29</p><p>30</p><p>31</p></div>
<div class="c " style="left:66.67px;top:78.60px;width:44.44px;text-align:center;"><p>N/A</p><p>N/A</p><p>54</p><p>54</p><p>54</p><p>53</p><p>53</p><p>53</p><p>53</p><p>53</p><p>53</p><p>53</p><p>52</p><p>52</p><p>52</p><p>51</p><p>51</p><p>51</p><p>50</p><p>50</p><p>50</p><p>49</p><p>49</p><p>48</p><p>48</p><p>48</p><p>48</p><p>47</p><p>47</p><p>47</p><p>47</p><p>47</p><p>46</p><p>46</p><p>45</p><p>45</p><p>45</p><p>45</p><p>45</p><p>46</p><p></p><p></p><p></p><p></p><p></p><p></p><p></p><p></p><p></p><p></p><p></p><p></p><p></p></div>
<div class="c " style="left:111.11px;top:78.60px;width:51.39px;text-align:center;"><p>N/A</p><p>N/A</p><p>RWRS 01</p><p>RWRS 02</p><p>RWRS 03</p><p>RWRS 04</p><p>RWRS 05</p><p>RWRS 06</p><p>RWRS 07</p><p>RWRS 08</p><p>RWRS 09</p><p>RWRS 10</p><p>RWRS 11</p><p>RWRS 12</p><p>RWRS 13</p><p>RWRS 14</p><p>RWRS 15</p><p>RWRS 16</p><p>RWRS 17</p><p>RWRS 18</p><p>RWRS 19</p><p>RWRS 20</p><p>RWRS 21</p><p>RWRS 22</p><p>RWRS 23</p><p>RWRS 24</p><p>RWRS 25</p><p>RWRS 26</p><p>RWRS 27</p><p>RWRS 28</p><p>RWRS 29</p><p>RWRS 30</p><p>RWRS 31</p><p>RWRS 33</p><p>RWRS 34</p><p>RWRS 35</p><p>RWRS 36</p><p>RWRS 37</p><p>RWRS 38</p><p>RWRS 32</p><p>RWRS Tat</p><p>RWRS Tat</p><p>RWRS</p><p>RWRS</p><p>RWRS</p><p>RWRS</p><p>RWRS</p><p>RWRS</p><p>RWRS</p><p>RWRS</p><p>RWRS</p><p>RWRS</p><p>RWRS</p></div>
<div class="c sec" style="left:162.50px;top:78.60px;width:259.72px;text-align:left;padding-left:3.0px;"><p>Yare - New Mills</p><p>New Mills - Hellesdon Mill</p><p>Hellesdon Mill - Mount Farm</p><p>Mount Farm - Costessey Mill</p><p>Costessey Mill - Taverham Mill</p><p>Taverham Mill - Northfields</p><p>Northfields - Downstream Ringland</p><p>Downstream Ringland -Ringland Road</p><p>Ringland Road - Attlebridge Hall</p><p>Attlebridge Hall - Morton Bridge</p><p>Morton Bridge - Slade Plantation</p><p>Slade Plantation - Lenwade Mill</p><p>Lenwade Mill - Walsis Hill</p><p>Walsis Hill - Lyng Mill</p><p>Lyng Mill - Elsing Mil</p><p>Elsing Mill - Swanton Morley Mill</p><p>Swanton Morley Mill - Riverside Farm</p><p>Riverside Farm - North Elmham Mill</p><p>North Elmham Mill - Bintree Woods</p><p>Bintree Woods - Dell View Farm</p><p>Dell View Farm - Bintry Mill</p><p>Bintry Mill - Guist Common</p><p>Guist Common - Great Ryburgh Mill</p><p>Great Ryburgh Mill - Pensthorpe Wildfowl Park</p><p>Pensthorpe Wildfowl Park - Great Ryburgh Common</p><p>Great Ryburgh Common</p><p>Great Ryburgh Common - Fakenham Mill</p><p>Fakenham Mill - Hempton</p><p>Hempton - Sculthorpe Moor</p><p>Sculthorpe Moor - Sculthorpe Mill</p><p>Sculthorpe Mill - South Mill Farm</p><p>South Mill Farm -  River Tat confluence</p><p>Tat confluence</p><p>Tatterford Common - Helhoughton Common</p><p>Helhoughton Common - Brickkiln Plantation</p><p>Brickkiln Plantation - West Raynham</p><p>West Raynham - South Raynham Bridge</p><p>South Raynham Bridge - Normans Burrow Wood</p><p>Normans Burrow Wood - Pear Tree Corner</p><p>Tat Tatterford Common</p><p>River Tat Coxford - Sculthrope</p><p>River Tat East Rudham</p><p>Langor Drain</p><p>Guist Drain</p><p>Foulsham Drain</p><p>Blackwater Drain</p><p>Blackwater Drain Trib</p><p>Kerdiston Drain</p><p>Swannington Drain</p><p>Wendling Beck - Dillington - Worthing</p><p>Wendling Beck - Grt Farnsham - Dillington</p><p>River Tud - Source - Hockering</p><p>River Tud - Hockering - New Costessey</p></div>
<div class="c " style="left:422.22px;top:78.60px;width:44.44px;text-align:center;"><p>4.39</p><p>4.23</p><p>1.65</p><p>3.16</p><p>3.91</p><p>1.49</p><p>2.56</p><p>0.23</p><p>3.62</p><p>1.25</p><p>1.11</p><p>2.94</p><p>2.43</p><p>2.15</p><p>3.74</p><p>4.71</p><p>2.52</p><p>1.17</p><p>2.6</p><p>0.86</p><p>2.67</p><p>2.01</p><p>3.31</p><p>2.38</p><p>1.98</p><p>0.18</p><p>1.96</p><p>0.46</p><p>1.72</p><p>1.25</p><p>2.63</p><p>0.67</p><p>0.48</p><p>0.72</p><p>1.57</p><p>0.71</p><p>1.41</p><p>0.72</p><p>0.85</p><p>3.28</p><p>3.25</p><p>3.53</p><p>1.98</p><p>2.01</p><p>12.4</p><p>10.8</p><p>5.93</p><p>5.06</p><p>5</p><p>6.90</p><p>10.00</p><p>13.5</p><p>10.7</p></div>
<div class="c " style="left:466.67px;top:78.60px;width:67.64px;text-align:center;"><p></p><p></p><p></p><p>0.72</p><p></p><p></p><p></p><p>0.23</p><p>0.41</p><p>1.25</p><p>0.34</p><p></p><p></p><p>2.15</p><p></p><p>0.88</p><p></p><p></p><p></p><p></p><p>2.67</p><p></p><p>1.32</p><p></p><p>1.98</p><p>0.175</p><p></p><p></p><p>1.72</p><p>0.405</p><p>0.85</p><p>0.65</p><p></p><p></p><p>1.57</p><p>0.71</p><p>1.41</p><p>0.72</p><p>0.85</p><p>2.19</p><p></p><p></p><p></p><p></p><p>3</p><p></p><p></p><p></p><p></p><p></p><p></p><p></p><p></p></div>
<div class="c " style="left:534.31px;top:78.60px;width:54.17px;text-align:center;"><p></p><p>4.23</p><p></p><p>1.4</p><p>1.03</p><p>0.8</p><p></p><p></p><p></p><p></p><p></p><p>2.358</p><p>1.458</p><p>2.15</p><p>4.13</p><p>2.08</p><p>2.212</p><p>0.867</p><p></p><p></p><p>0.405</p><p>0.93</p><p></p><p>0.362</p><p></p><p></p><p>1.914</p><p>0.46</p><p>1.72</p><p></p><p></p><p></p><p></p><p></p><p></p><p></p><p></p><p></p><p></p><p></p><p></p><p></p><p></p><p></p><p></p><p></p><p></p><p></p><p></p><p></p><p></p><p></p><p></p></div>
<div class="c " style="left:588.47px;top:78.60px;width:48.06px;text-align:center;"><p></p><p>Coarse</p><p>Coarse</p><p>Coarse</p><p>Coarse</p><p></p><p></p><p></p><p></p><p></p><p></p><p></p><p>Coarse</p><p>Coarse</p><p>Coarse</p><p>Coarse</p><p>Coarse</p><p>Coarse</p><p></p><p></p><p>Coarse</p><p>Game</p><p></p><p>Mixed</p><p>Mixed</p><p>Mixed</p><p>Mixed</p><p></p><p>Mixed</p><p>Mixed</p><p>Mixed</p><p></p><p></p><p></p><p></p><p></p><p></p><p></p><p></p><p></p><p></p><p></p><p></p><p></p><p></p><p></p><p></p><p></p><p></p><p></p><p></p><p></p><p></p></div>
<div class="c" style="left:466.67px;top:141.74px;width:67.64px;text-align:center;color:#e0304a;-webkit-text-stroke-color:#e0304a"><p style="text-decoration:underline">1.5</p></div>
<div class="c n" style="left:636.53px;top:78.60px;width:48.19px;text-align:center;"><p></p><p>100</p><p>100</p><p>100</p><p>100</p><p>25</p><p>25</p><p>25</p><p>25</p><p>100</p><p>100</p><p>100</p><p>0</p><p>0</p><p>0</p><p>0</p><p>0</p><p>0</p><p>0</p><p>0</p><p>0</p><p>100</p><p>100</p><p>25</p><p>25</p><p>0</p><p>25</p><p>100</p><p>0</p><p>0</p><p>0</p><p>0</p><p>0</p><p>0</p><p>0</p><p>0</p><p>0</p><p>0</p><p>100</p><p>0</p><p>0</p><p>0</p><p>0</p><p>0</p><p>25</p><p>25</p><p>25</p><p>25</p><p>25</p><p>0</p><p>100</p><p>25</p><p>25</p></div>
<div class="c n" style="left:684.72px;top:78.60px;width:37.92px;text-align:center;"><p></p><p>2.4</p><p>2.4</p><p>2.4</p><p>2.12</p><p>2.12</p><p>2.12</p><p>2.12</p><p>2.12</p><p>2.12</p><p>2.12</p><p>2.12</p><p>0.7</p><p>0.7</p><p>1.91</p><p>1.91</p><p>1.02</p><p>1.02</p><p>0.42</p><p>0.42</p><p>0.42</p><p>0.42</p><p>0.42</p><p>0.42</p><p>0.42</p><p>0.42</p><p>0.42</p><p></p><p></p><p></p><p></p><p></p><p></p><p></p><p></p><p></p><p></p><p></p><p></p><p>0.00</p><p>0.00</p><p></p><p></p><p></p><p></p><p></p><p></p><p></p><p></p><p></p><p></p><p>0.75</p><p>0.75</p></div>
<div class="c n" style="left:722.64px;top:78.60px;width:38.47px;text-align:center;"><p></p><p>0.52</p><p>0.52</p><p>0.52</p><p>2.58</p><p>2.58</p><p>2.58</p><p>2.58</p><p>2.58</p><p>2.58</p><p>2.58</p><p>2.58</p><p>1.97</p><p>1.97</p><p>3.21</p><p>3.21</p><p>0.20</p><p>0.20</p><p>0.00</p><p>0.00</p><p>0.00</p><p>0.00</p><p>0.00</p><p>0.00</p><p>0.00</p><p>0.00</p><p>0.00</p><p></p><p></p><p></p><p></p><p></p><p></p><p></p><p></p><p></p><p></p><p></p><p></p><p>0.00</p><p>0.00</p><p></p><p></p><p></p><p></p><p></p><p></p><p></p><p></p><p></p><p></p><p>2.10</p><p>2.10</p></div>
<div class="c n" style="left:761.11px;top:78.60px;width:37.92px;text-align:center;"><p></p><p>2.07</p><p>2.07</p><p>2.07</p><p>5.98</p><p>5.98</p><p>5.98</p><p>5.98</p><p>5.98</p><p>5.98</p><p>5.98</p><p>5.98</p><p>3.7</p><p>3.7</p><p>2.01</p><p>2.01</p><p>0.08</p><p>0.08</p><p>0.00</p><p>0.00</p><p>0.00</p><p>0.00</p><p>0.00</p><p>0.00</p><p>0.00</p><p>0.00</p><p>0.00</p><p></p><p></p><p></p><p></p><p></p><p></p><p></p><p></p><p></p><p></p><p></p><p></p><p>0</p><p>0</p><p></p><p></p><p></p><p></p><p></p><p></p><p></p><p></p><p></p><p></p><p>1</p><p>1</p></div>
<div class="c n" style="left:799.03px;top:78.60px;width:38.47px;text-align:center;"><p></p><p>0.17</p><p>0.17</p><p>0.17</p><p>0.39</p><p>0.39</p><p>0.39</p><p>0.39</p><p>0.39</p><p>0.39</p><p>0.39</p><p>0.39</p><p>0.42</p><p>0.42</p><p>1.49</p><p>1.49</p><p>0.59</p><p>0.59</p><p>0.43</p><p>0.43</p><p>0.43</p><p>0.43</p><p>0.43</p><p>0.43</p><p>0.43</p><p>0.43</p><p>0.43</p><p></p><p></p><p></p><p></p><p></p><p></p><p></p><p></p><p></p><p></p><p></p><p></p><p>0.00</p><p>0.00</p><p></p><p></p><p></p><p></p><p></p><p></p><p></p><p></p><p></p><p></p><p>0.00</p><p>0.00</p></div>
<div class="c n" style="left:837.50px;top:78.60px;width:38.47px;text-align:center;"><p></p><p>0.02</p><p>0.02</p><p>0.02</p><p>0.00</p><p>0.00</p><p>0.00</p><p>0.00</p><p>0.00</p><p>0.00</p><p>0.00</p><p>0.00</p><p>0.03</p><p>0.03</p><p>0</p><p>0</p><p>0.05</p><p>0.05</p><p>0.43</p><p>0.43</p><p>0.43</p><p>0.43</p><p>0.43</p><p>0.43</p><p>0.43</p><p>0.43</p><p>0.43</p><p></p><p></p><p></p><p></p><p></p><p></p><p></p><p></p><p></p><p></p><p></p><p></p><p>3.28</p><p>5.33</p><p></p><p></p><p></p><p></p><p></p><p></p><p></p><p></p><p></p><p></p><p>8</p><p>8</p></div>
<div class="c n" style="left:875.97px;top:78.60px;width:39.31px;text-align:center;"><p></p><p></p><p></p><p></p><p></p><p></p><p></p><p>9</p><p>9</p><p></p><p></p><p>10</p><p>10</p><p>9</p><p>9</p><p>13</p><p>13</p><p>13</p><p>12</p><p>12</p><p>12</p><p>12</p><p>12</p><p>9</p><p>9</p><p>9</p><p>9</p><p>12</p><p>12</p><p>11</p><p>11</p><p>13</p><p>13</p><p>12</p><p>13</p><p>15</p><p>11</p><p>4</p><p>12</p><p>9</p><p>2</p><p>7</p><p></p><p></p><p></p><p></p><p></p><p></p><p></p><p>12</p><p></p><p></p><p>10</p></div>
<div class="c n" style="left:915.28px;top:78.60px;width:37.92px;text-align:center;"><p></p><p>0.06</p><p>0.06</p><p>0.06</p><p>0.06</p><p>0.06</p><p>0.06</p><p>0.06</p><p>0.06</p><p>0.06</p><p>0.06</p><p>0.06</p><p>0.06</p><p>0.06</p><p>0.06</p><p>0.06</p><p>0.05</p><p>0.05</p><p>0.05</p><p>0.05</p><p>0.05</p><p>0.05</p><p>0.05</p><p>0.05</p><p>0.05</p><p>0.05</p><p>0.05</p><p>0.05</p><p>0.05</p><p>0.05</p><p>0.05</p><p>0.05</p><p>0.05</p><p>0.05</p><p>0.05</p><p>0.05</p><p>0.05</p><p>0.05</p><p>0.14</p><p>0.12</p><p>0.11</p><p>0.34</p><p>0.08</p><p>0.2</p><p>0.2</p><p>0.3</p><p>0.2</p><p>0.2</p><p>0.04</p><p>0.03</p><p>0.11</p><p>0.55</p><p>0.2</p></div>
<div class="c n" style="left:953.19px;top:78.60px;width:38.06px;text-align:center;"><p></p><p>0.04</p><p>0.04</p><p>0.04</p><p>0.04</p><p>0.04</p><p>0.04</p><p>0.04</p><p>0.04</p><p>0.04</p><p>0.04</p><p>0.04</p><p>0.04</p><p>0.04</p><p>0.04</p><p>0.04</p><p>0.03</p><p>0.03</p><p>0.03</p><p>0.03</p><p>0.03</p><p>0.03</p><p>0.03</p><p>0.03</p><p>0.03</p><p>0.03</p><p>0.03</p><p>0.03</p><p>0.03</p><p>0.03</p><p>0.04</p><p>0.04</p><p>0.04</p><p>0.04</p><p>0.04</p><p>0.03</p><p>0.03</p><p>0.03</p><p>0.46</p><p>0.11</p><p>0.11</p><p>0.02</p><p>0.09</p><p>0.05</p><p>0.05</p><p>0.085</p><p>0.085</p><p>0.085</p><p>0.03</p><p>0.04</p><p>0.11</p><p>0.16</p><p>0.08</p></div>
<div class="c n" style="left:991.25px;top:78.60px;width:36.94px;text-align:center;"><p></p><p>5.92</p><p>5.92</p><p>5.92</p><p>5.92</p><p>5.92</p><p>5.92</p><p>5.92</p><p>5.92</p><p>5.92</p><p>5.92</p><p>5.92</p><p>6.14</p><p>6.14</p><p>6.67</p><p>6.67</p><p>9.09</p><p>9.09</p><p>9.09</p><p>9.09</p><p>9.09</p><p>9.09</p><p>9.09</p><p>9.09</p><p>9.09</p><p>9.09</p><p>9.09</p><p>9.09</p><p>9.09</p><p>9.44</p><p>7.8</p><p>7.8</p><p>7.8</p><p>5.00</p><p>5.00</p><p>5.00</p><p>5.00</p><p>5.00</p><p>40.00</p><p>5.00</p><p>5.00</p><p>20.00</p><p>5.00</p><p>6.00</p><p>6.00</p><p>5.00</p><p>5.00</p><p>5.00</p><p>5.00</p><p>5.00</p><p>8.50</p><p>8.00</p><p>6.00</p></div>
<div class="c n" style="left:1028.19px;top:78.60px;width:48.19px;text-align:center;"><p></p><p>5.73</p><p>5.73</p><p>5.73</p><p>5.73</p><p>5.73</p><p>5.73</p><p>5.73</p><p>5.73</p><p>5.73</p><p>5.73</p><p>5.73</p><p>5.65</p><p>5.65</p><p>5.17</p><p>5.17</p><p>6.00</p><p>6.00</p><p>6.00</p><p>6.00</p><p>6.00</p><p>6.00</p><p>6.00</p><p>6.00</p><p>6.00</p><p>6.00</p><p>6.00</p><p>6.00</p><p>6.00</p><p>4.8</p><p>4.84</p><p>4.84</p><p>4.84</p><p>5.29</p><p>5.29</p><p>5.29</p><p>5.29</p><p>5.29</p><p>5.29</p><p>4.84</p><p>3</p><p>3</p><p>5</p><p>4.8</p><p>4.8</p><p>8.00</p><p>8.00</p><p>8.00</p><p>6.00</p><p>9.00</p><p>9.00</p><p>8.00</p><p>8.00</p></div>
<div class="c n" style="left:1076.39px;top:78.60px;width:43.47px;text-align:center;"><p></p><p>47</p><p>47</p><p>47</p><p>47</p><p>47</p><p>47</p><p>47</p><p>47</p><p>47</p><p>47</p><p>47</p><p>47</p><p>47</p><p>47</p><p>47</p><p>99</p><p>99</p><p>99</p><p>99</p><p>99</p><p>99</p><p>99</p><p>99</p><p>99</p><p>99</p><p>99</p><p>74</p><p>74</p><p>74</p><p>74</p><p>74</p><p>74</p><p>74</p><p>74</p><p>74</p><p>74</p><p>74</p><p>74</p><p>74</p><p></p><p></p><p></p><p></p><p></p><p></p><p></p><p></p><p></p><p></p><p></p><p></p><p></p></div>
<div class="c n" style="left:1119.86px;top:78.60px;width:44.03px;text-align:center;"><p></p><p></p><p></p><p></p><p></p><p></p><p></p><p></p><p></p><p>100</p><p></p><p></p><p></p><p>1800</p><p></p><p>2200</p><p></p><p>500</p><p></p><p></p><p></p><p></p><p></p><p></p><p></p><p></p><p></p><p></p><p></p><p></p><p></p><p></p><p></p><p></p><p></p><p></p><p></p><p></p><p></p><p></p><p></p><p></p><p></p><p></p><p></p><p></p><p></p><p></p><p></p><p></p><p></p><p></p><p></p></div>
<div class="c n" style="left:1163.89px;top:78.60px;width:45.14px;text-align:center;"><p>50%</p><p>50%</p><p>75%</p><p>50%</p><p>50%</p><p>50%</p><p>50%</p><p>100%</p><p>100%</p><p>100%</p><p>100%</p><p>100%</p><p>0%</p><p>0%</p><p>0%</p><p>0%</p><p>25%</p><p>0%</p><p>0%</p><p>100%</p><p>100%</p><p>100%</p><p>25%</p><p>25%</p><p>100%</p><p>100%</p><p>25%</p><p>25%</p><p>0%</p><p>50%</p><p>50%</p><p>100%</p><p>100%</p><p>100%</p><p>100%</p><p>100%</p><p>100%</p><p>100%</p><p>100%</p><p>100%</p><p>100%</p><p>100%</p><p>100%</p><p>100%</p><p>100%</p><p>100%</p><p>100%</p><p>100%</p><p>100%</p><p>100%</p><p>100%</p><p>100%</p><p>100%</p></div>
<div class="c n" style="left:1209.03px;top:78.60px;width:84.44px;text-align:center;"><p>0%</p><p>0%</p><p>0%</p><p>23%</p><p>38%</p><p>0%</p><p>0%</p><p>100%</p><p>11%</p><p>100%</p><p>31%</p><p>0%</p><p>0%</p><p>100%</p><p>0%</p><p>19%</p><p>0%</p><p>0%</p><p>0%</p><p>0%</p><p>100%</p><p>0%</p><p>40%</p><p>0%</p><p>100%</p><p>97%</p><p>0%</p><p>0%</p><p>100%</p><p>32%</p><p>32%</p><p>97%</p><p>0%</p><p>0%</p><p>100%</p><p>100%</p><p>100%</p><p>100%</p><p>100%</p><p>67%</p><p>0%</p><p>0%</p><p>0%</p><p>0%</p><p>24%</p><p>0%</p><p>0%</p><p>0%</p><p>0%</p><p>0%</p><p>0%</p><p>0%</p><p>0%</p></div>
<div class="c n" style="left:1293.47px;top:78.60px;width:70.42px;text-align:center;"><p>14</p><p>14</p><p>14</p><p>14</p><p>14</p><p>14</p><p>14</p><p>14</p><p>14</p><p>14</p><p></p><p></p><p></p><p></p><p></p><p></p><p></p><p></p><p></p><p></p><p></p><p></p><p></p><p></p><p></p><p></p><p></p><p>9</p><p>9</p><p>9</p><p></p><p>5</p><p>5</p><p>5</p><p>5</p><p>5</p><p>5</p><p></p><p></p><p></p><p></p><p></p><p></p><p></p><p></p><p></p><p></p><p></p><p></p><p></p><p></p><p></p><p></p></div>
<div class="c n" style="left:1411.53px;top:78.60px;width:46.39px;text-align:center;"><p></p><p></p><p>100%</p><p>100%</p><p>100%</p><p>100%</p><p>100%</p><p>100%</p><p>100%</p><p>100%</p><p>100%</p><p>100%</p><p>100%</p><p>100%</p><p>100%</p><p>0%</p><p>0%</p><p>0%</p><p>100%</p><p>100%</p><p>100%</p><p>100%</p><p>100%</p><p>100%</p><p>100%</p><p>100%</p><p>100%</p><p>100%</p><p>100%</p><p>100%</p><p>100%</p><p>100%</p><p>100%</p><p>100%</p><p>0%</p><p>0%</p><p>0%</p><p>0%</p><p>0%</p><p>100%</p><p></p><p></p><p></p><p></p><p></p><p></p><p></p><p></p><p></p><p></p><p></p><p></p><p></p></div>
<div class="c n" style="left:1457.92px;top:78.60px;width:54.58px;text-align:center;"><p></p><p></p><p>100%</p><p>100%</p><p>100%</p><p>100%</p><p>100%</p><p>0%</p><p>0%</p><p>0%</p><p>0%</p><p>0%</p><p>0%</p><p>0%</p><p>0%</p><p>0%</p><p>0%</p><p>0%</p><p>0%</p><p>0%</p><p>0%</p><p>100%</p><p>100%</p><p>100%</p><p>100%</p><p>100%</p><p>100%</p><p>100%</p><p>100%</p><p>100%</p><p>100%</p><p>100%</p><p>0%</p><p>0%</p><p>0%</p><p>0%</p><p>0%</p><p>0%</p><p>0%</p><p>0%</p><p></p><p></p><p></p><p></p><p></p><p></p><p></p><p></p><p></p><p></p><p></p><p></p><p></p></div>
<div class="c n" style="left:1512.50px;top:78.60px;width:48.61px;text-align:center;"><p>0.00</p><p>0.00</p><p>0.00</p><p>0.00</p><p>0.00</p><p>0.07</p><p>0.07</p><p>0.07</p><p>0.07</p><p>0.07</p><p>0.07</p><p>0.07</p><p>0.42</p><p>0.42</p><p>0.00</p><p>0.00</p><p>0.05</p><p>0.05</p><p>1.83</p><p>1.83</p><p>0.00</p><p>1.83</p><p>1.83</p><p>1.83</p><p>1.83</p><p>1.83</p><p>1.83</p><p>0.00</p><p>0.00</p><p>0.00</p><p>0.00</p><p>0.00</p><p>0.00</p><p>0.00</p><p>0.00</p><p>0.00</p><p>0.00</p><p>0.00</p><p>0.00</p><p>0.00</p><p>6.00</p><p></p><p></p><p></p><p></p><p></p><p></p><p></p><p></p><p></p><p></p><p></p><p></p></div>
<div class="c n" style="left:1561.11px;top:78.60px;width:48.61px;text-align:center;"><p>0.09</p><p>0.09</p><p>0.09</p><p>0.09</p><p>0.09</p><p>0.19</p><p>0.19</p><p>0.19</p><p>0.19</p><p>0.19</p><p>0.19</p><p>0.19</p><p>0.24</p><p>0.24</p><p>0.00</p><p>0.00</p><p>0.05</p><p>0.05</p><p>1.75</p><p>1.75</p><p>1.00</p><p>1.75</p><p>1.75</p><p>1.75</p><p>1.75</p><p>1.75</p><p>1.75</p><p>0.00</p><p>0.00</p><p>0.00</p><p>0.00</p><p>5.00</p><p>5.00</p><p>8.00</p><p>8.00</p><p>8.00</p><p>8.00</p><p>8.00</p><p>8.00</p><p>5.00</p><p>5.00</p><p></p><p></p><p></p><p></p><p></p><p></p><p></p><p></p><p></p><p></p><p></p><p></p></div>
<div class="h s" style="left:-10.00px;top:35.30px;width:86.67px;text-align:center;color:#5a5a5a;">Compartment</div>
<div class="h s" style="left:56.67px;top:22.00px;width:64.44px;text-align:center;color:#5a5a5a;">SSSI Unit</div>
<div class="h s" style="left:56.67px;top:35.30px;width:64.44px;text-align:center;color:#5a5a5a;">Number</div>
<div class="h s" style="left:101.11px;top:22.00px;width:71.39px;text-align:center;color:#5a5a5a;">Reach</div>
<div class="h s" style="left:101.11px;top:35.30px;width:71.39px;text-align:center;color:#5a5a5a;">Number</div>
<div class="h" style="left:165.50px;top:35.30px;width:259.72px;text-align:left;color:#5a5a5a;">Section</div>
<div class="h" style="left:165.50px;top:63.20px;width:259.72px;text-align:left;color:#5a5a5a;">Measure Definition</div>
<div class="h" style="left:412.22px;top:35.30px;width:64.44px;text-align:center;color:#5a5a5a;">Length</div>
<div class="h" style="left:456.67px;top:19.00px;width:87.64px;text-align:center;color:#5a5a5a;">River</div>
<div class="h" style="left:456.67px;top:35.30px;width:87.64px;text-align:center;color:#5a5a5a;">Restoration</div>
<div class="h" style="left:524.31px;top:19.00px;width:74.17px;text-align:center;color:#5a5a5a;">Fishing</div>
<div class="h" style="left:524.31px;top:35.30px;width:74.17px;text-align:center;color:#5a5a5a;">Rights</div>
<div class="h" style="left:578.47px;top:19.00px;width:68.06px;text-align:center;color:#5a5a5a;">Target</div>
<div class="h" style="left:578.47px;top:35.30px;width:68.06px;text-align:center;color:#5a5a5a;">Fishery</div>
<div class="h" style="left:626.53px;top:3.00px;width:68.19px;text-align:center;">Invasive</div>
<div class="h" style="left:626.53px;top:19.00px;width:68.19px;text-align:center;">Plant</div>
<div class="h" style="left:626.53px;top:35.30px;width:68.19px;text-align:center;">Species</div>
<div class="h s" style="left:626.53px;top:63.20px;width:68.19px;text-align:center;">%</div>
<div class="h" style="left:674.72px;top:19.00px;width:57.92px;text-align:center;">Fish</div>
<div class="h" style="left:674.72px;top:35.30px;width:57.92px;text-align:center;">Roach</div>
<div class="h s" style="left:674.72px;top:48.30px;width:57.92px;text-align:center;">Density</div>
<div class="h s" style="left:674.72px;top:63.20px;width:57.92px;text-align:center;">100m2</div>
<div class="h" style="left:712.64px;top:19.00px;width:58.47px;text-align:center;">Fish</div>
<div class="h" style="left:712.64px;top:35.30px;width:58.47px;text-align:center;">Dace</div>
<div class="h s" style="left:712.64px;top:48.30px;width:58.47px;text-align:center;">Density</div>
<div class="h s" style="left:712.64px;top:63.20px;width:58.47px;text-align:center;">100m2</div>
<div class="h" style="left:751.11px;top:19.00px;width:57.92px;text-align:center;">Fish</div>
<div class="h" style="left:751.11px;top:35.30px;width:57.92px;text-align:center;">Chub</div>
<div class="h s" style="left:751.11px;top:48.30px;width:57.92px;text-align:center;">Density</div>
<div class="h s" style="left:751.11px;top:63.20px;width:57.92px;text-align:center;">100m2</div>
<div class="h" style="left:789.03px;top:19.00px;width:58.47px;text-align:center;">Fish</div>
<div class="h" style="left:789.03px;top:35.30px;width:58.47px;text-align:center;">Pike</div>
<div class="h s" style="left:789.03px;top:48.30px;width:58.47px;text-align:center;">Density</div>
<div class="h s" style="left:789.03px;top:63.20px;width:58.47px;text-align:center;">100m2</div>
<div class="h" style="left:827.50px;top:19.00px;width:58.47px;text-align:center;">Fish</div>
<div class="h" style="left:827.50px;top:35.30px;width:58.47px;text-align:center;">Trout</div>
<div class="h s" style="left:827.50px;top:48.30px;width:58.47px;text-align:center;">Density</div>
<div class="h s" style="left:827.50px;top:63.20px;width:58.47px;text-align:center;">100m2</div>
<div class="h" style="left:865.97px;top:19.00px;width:59.31px;text-align:center;">Inverts</div>
<div class="h" style="left:865.97px;top:35.30px;width:59.31px;text-align:center;">Score</div>
<div class="h s" style="left:865.97px;top:48.30px;width:59.31px;text-align:center;">Riverfly</div>
<div class="h s" style="left:865.97px;top:63.20px;width:59.31px;text-align:center;">Score</div>
<div class="h" style="left:905.28px;top:19.00px;width:57.92px;text-align:center;">Chem</div>
<div class="h" style="left:905.28px;top:35.30px;width:57.92px;text-align:center;">P</div>
<div class="h" style="left:905.28px;top:63.20px;width:57.92px;text-align:center;">mg/l</div>
<div class="h" style="left:943.19px;top:19.00px;width:58.06px;text-align:center;">Chem</div>
<div class="h" style="left:943.19px;top:35.30px;width:58.06px;text-align:center;">A</div>
<div class="h" style="left:943.19px;top:63.20px;width:58.06px;text-align:center;">mg/l</div>
<div class="h" style="left:981.25px;top:19.00px;width:56.94px;text-align:center;">Chem</div>
<div class="h" style="left:981.25px;top:35.30px;width:56.94px;text-align:center;">N</div>
<div class="h" style="left:981.25px;top:63.20px;width:56.94px;text-align:center;">mg/l</div>
<div class="h" style="left:1018.19px;top:19.00px;width:68.19px;text-align:center;">Chem</div>
<div class="h" style="left:1018.19px;top:35.30px;width:68.19px;text-align:center;">Solids</div>
<div class="h" style="left:1018.19px;top:63.20px;width:68.19px;text-align:center;">mg/l</div>
<div class="h" style="left:1066.39px;top:35.30px;width:63.47px;text-align:center;">Flow</div>
<div class="h s" style="left:1066.39px;top:63.20px;width:63.47px;text-align:center;">% HOF</div>
<div class="h" style="left:1109.86px;top:3.00px;width:64.03px;text-align:center;">Fish</div>
<div class="h" style="left:1109.86px;top:19.00px;width:64.03px;text-align:center;">Habitat</div>
<div class="h" style="left:1109.86px;top:35.30px;width:64.03px;text-align:center;">s</div>
<div class="h" style="left:1109.86px;top:63.20px;width:64.03px;text-align:center;">Metres</div>
<div class="h" style="left:1153.89px;top:19.00px;width:65.14px;text-align:center;">Fish</div>
<div class="h" style="left:1153.89px;top:35.30px;width:65.14px;text-align:center;">Passage</div>
<div class="h" style="left:1153.89px;top:63.20px;width:65.14px;text-align:center;">Pass</div>
<div class="h" style="left:1199.03px;top:19.00px;width:104.44px;text-align:center;">Geomorpholog</div>
<div class="h" style="left:1199.03px;top:35.30px;width:104.44px;text-align:center;">y Restoration</div>
<div class="h" style="left:1199.03px;top:63.20px;width:104.44px;text-align:center;">Percentage</div>
<div class="h" style="left:1283.47px;top:35.30px;width:90.42px;text-align:center;">Macrophytes</div>
<div class="h s" style="left:1283.47px;top:63.20px;width:90.42px;text-align:center;">RN_A_TAXA</div>
<div class="h" style="left:1353.89px;top:35.30px;width:67.64px;text-align:center;">NNIS</div>
<div class="h" style="left:1353.89px;top:63.20px;width:67.64px;text-align:center;">?</div>
<div class="h" style="left:1401.53px;top:19.00px;width:66.39px;text-align:center;">SAC</div>
<div class="h" style="left:1401.53px;top:35.30px;width:66.39px;text-align:center;">Desg</div>
<div class="h s" style="left:1401.53px;top:48.30px;width:66.39px;text-align:center;">White</div>
<div class="h s" style="left:1401.53px;top:63.20px;width:66.39px;text-align:center;">Crayfish</div>
<div class="h" style="left:1447.92px;top:35.30px;width:74.58px;text-align:center;">SAC Desg</div>
<div class="h s" style="left:1447.92px;top:48.30px;width:74.58px;text-align:center;">Desmoulin'</div>
<div class="h s" style="left:1447.92px;top:63.20px;width:74.58px;text-align:center;">s snail</div>
<div class="h" style="left:1502.50px;top:19.00px;width:68.61px;text-align:center;">SAC</div>
<div class="h" style="left:1502.50px;top:35.30px;width:68.61px;text-align:center;">Desg</div>
<div class="h s" style="left:1502.50px;top:48.30px;width:68.61px;text-align:center;">Brook</div>
<div class="h s" style="left:1502.50px;top:63.20px;width:68.61px;text-align:center;">lamprey</div>
<div class="h" style="left:1551.11px;top:19.00px;width:68.61px;text-align:center;">SAC</div>
<div class="h" style="left:1551.11px;top:35.30px;width:68.61px;text-align:center;">Desg</div>
<div class="h s" style="left:1551.11px;top:63.20px;width:68.61px;text-align:center;">Bullhead</div>
<i class="tr" style="left:528.81px;top:49.3px"></i>
<i class="tr" style="left:582.97px;top:49.3px"></i>
<i class="tr" style="left:631.03px;top:49.3px"></i>
<i class="tr" style="left:679.22px;top:49.3px"></i>
<i class="tr" style="left:717.14px;top:49.3px"></i>
<i class="tr" style="left:755.61px;top:49.3px"></i>
<i class="tr" style="left:793.53px;top:49.3px"></i>
<i class="tr" style="left:832.00px;top:49.3px"></i>
<i class="tr" style="left:870.47px;top:49.3px"></i>
<i class="tr" style="left:909.78px;top:49.3px"></i>
<i class="tr" style="left:947.69px;top:49.3px"></i>
<i class="tr" style="left:985.75px;top:49.3px"></i>
<i class="tr" style="left:1022.69px;top:49.3px"></i>
<i class="tr" style="left:1070.89px;top:49.3px"></i>
<i class="tr" style="left:1114.36px;top:49.3px"></i>
<i class="tr" style="left:1158.39px;top:49.3px"></i>
<i class="tr" style="left:1287.97px;top:49.3px"></i>
<i class="tr" style="left:1452.42px;top:49.3px"></i>
<i class="tr" style="left:1507.00px;top:49.3px"></i>
<i class="tr" style="left:1555.61px;top:49.3px"></i>
<i class="tr" style="left:1604.22px;top:49.3px"></i>
<i class="tr" style="left:1158.39px;top:218.7px"></i>
<i class="tr" style="left:1158.39px;top:281.8px"></i>
<i class="tr" style="left:1158.39px;top:313.4px"></i>
<i class="tr" style="left:1158.39px;top:344.9px"></i>
</div>
<svg id="logo" style="position:absolute;left:460px;top:1360px;filter:blur(0.5px)" width="200" height="112" viewBox="460 1360 200 112">
<path d="M472.5 1403.7H487.5C489.5 1403.7 490 1388 493.5 1388C497.5 1388 497.5 1417 501.5 1417C505.5 1417 505.5 1386 509.5 1386C513.5 1386 513.5 1417 517.5 1417C521.5 1417 521.5 1403.7 524 1403.7H540" fill="none" stroke="#66788a" stroke-width="2.1"/>
<ellipse cx="506.3" cy="1402.8" rx="20.3" ry="28.6" fill="none" stroke="#1e9fd6" stroke-width="5.2"/>
<path d="M521.5 1429.5L539 1460.5" stroke="#1e9fd6" stroke-width="7.2" stroke-linecap="round"/>
<text x="543" y="1416" font-family="Liberation Sans, sans-serif" font-weight="bold" font-size="33" fill="#1d2c52" stroke="#1d2c52" stroke-width="1.6" textLength="101" lengthAdjust="spacingAndGlyphs">CaSTCo</text>
</svg>
</body></html>
